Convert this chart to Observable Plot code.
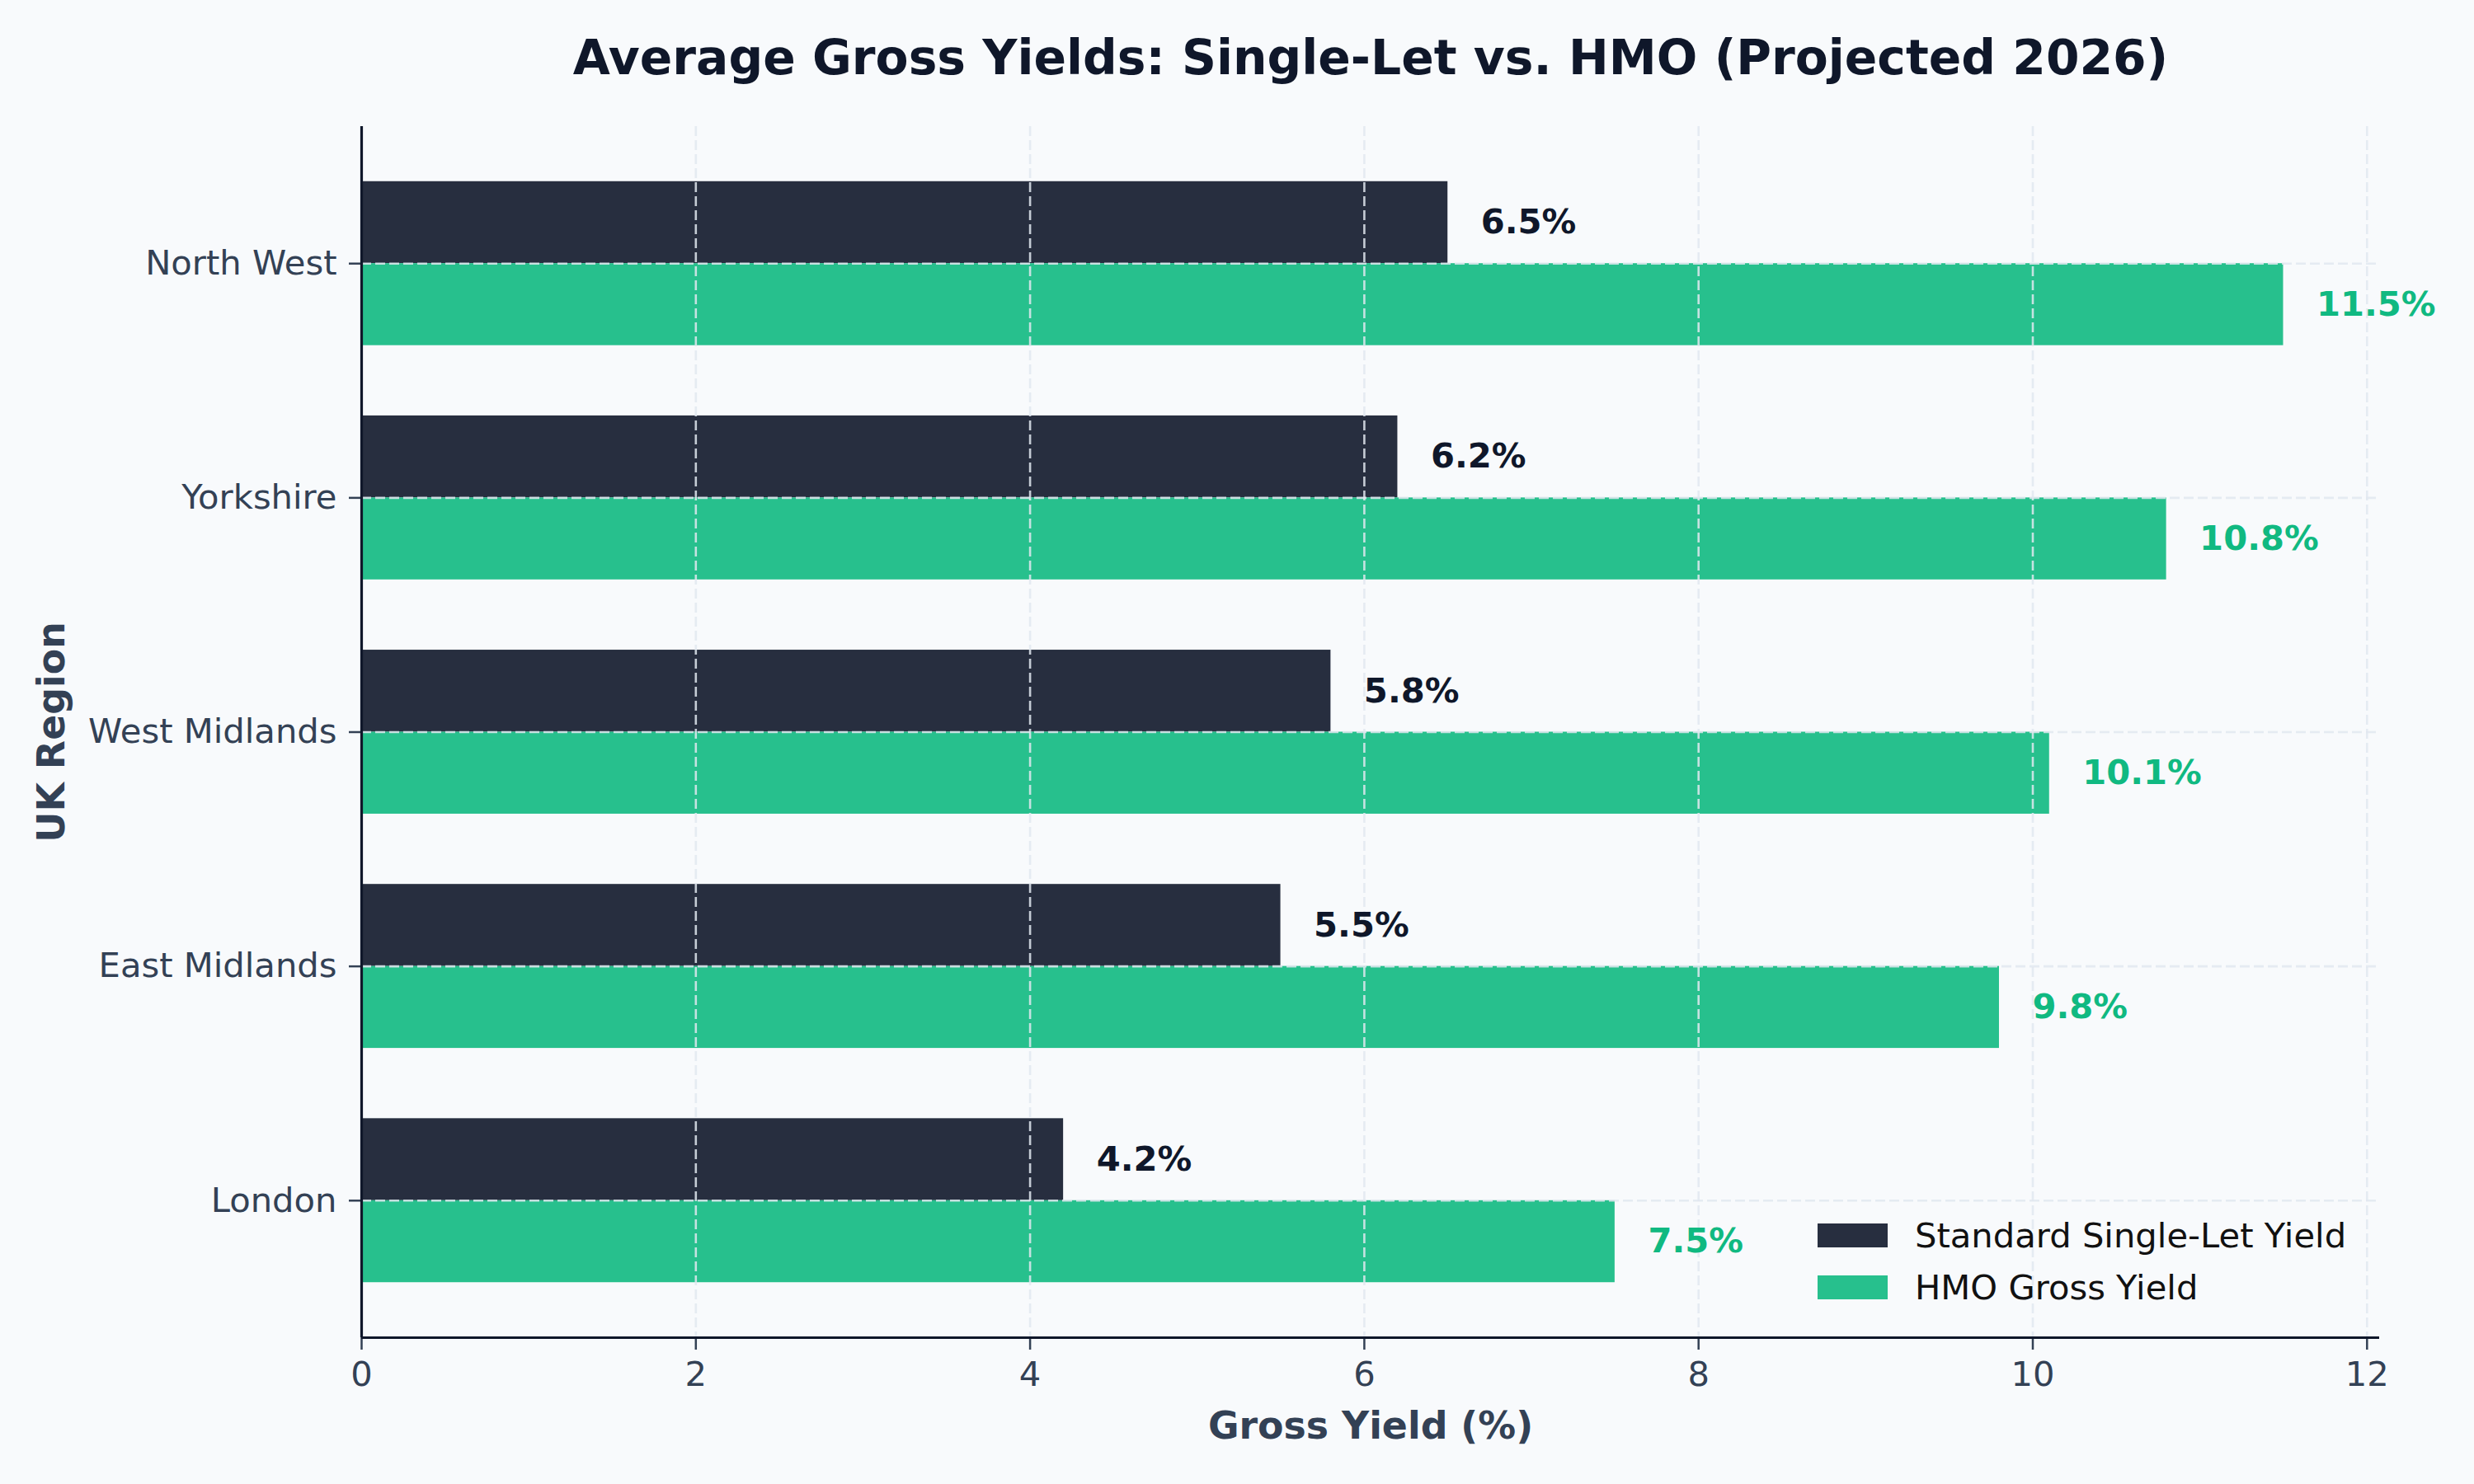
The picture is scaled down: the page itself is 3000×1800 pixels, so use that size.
<!DOCTYPE html>
<html>
<head>
<meta charset="utf-8">
<script src="https://cdn.jsdelivr.net/npm/d3@7"></script>
<script src="https://cdn.jsdelivr.net/npm/@observablehq/plot@0.6"></script>
<style>
  html, body { margin: 0; padding: 0; background: #F8FAFC; }
  #chart { position: relative; width: 3000px; height: 1800px; font-family: "DejaVu Sans", sans-serif; }
  #legend { position: absolute; left: 2204px; top: 1467px; font-size: 41.7px; color: #111111; }
  #legend .row { display: flex; align-items: center; height: 63px; }
  #legend .sw { width: 85px; height: 29px; margin-right: 33px; opacity: 0.9; }
</style>
</head>
<body>
<div id="chart"><div id="legend"></div></div>
<script>
// Regions, bottom to top
const regions = ["London", "East Midlands", "West Midlands", "Yorkshire", "North West"];
const singleLet = [4.2, 5.5, 5.8, 6.2, 6.5];
const hmoYield = [7.5, 9.8, 10.1, 10.8, 11.5];
const seriesNames = ["Standard Single-Let Yield", "HMO Gross Yield"];
const seriesColors = ["#0F172A", "#10B981"];
const xTicks = [0, 2, 4, 6, 8, 10, 12];

const barH = 0.35;
const rows = regions.flatMap((r, i) => [
  {region: r, i, series: seriesNames[0], value: singleLet[i], y1: i, y2: i + barH},
  {region: r, i, series: seriesNames[1], value: hmoYield[i], y1: i - barH, y2: i}
]);

// matplotlib-like 5% margins
const xMax = d3.max(rows, d => d.value) * 1.05;
const yPad = (regions.length - 1 + 2 * barH) * 0.05;
const yDomain = [-barH - yPad, regions.length - 1 + barH + yPad];

const font = "DejaVu Sans";
const slate = "#334155";
const gridStyle = {stroke: "#E2E8F0", strokeOpacity: 0.85, strokeWidth: 2.6, strokeDasharray: "12,5"};

const chart = Plot.plot({
  width: 3000,
  height: 1800,
  marginLeft: 438,
  marginRight: 115,
  marginTop: 153,
  marginBottom: 178,
  style: {background: "transparent", fontFamily: font, overflow: "visible"},
  x: {domain: [0, xMax]},
  y: {domain: yDomain},
  color: {domain: seriesNames, range: seriesColors},
  marks: [
    Plot.rect(rows, {x1: 0, x2: "value", y1: "y1", y2: "y2", fill: "series", fillOpacity: 0.9}),
    Plot.gridX(xTicks, gridStyle),
    Plot.gridY(d3.range(regions.length), gridStyle),
    Plot.text(rows, {
      x: "value", y: d => (d.y1 + d.y2) / 2, text: d => `${d.value.toFixed(1)}%`,
      fill: "series", textAnchor: "start", dx: 40, fontSize: 41.7, fontWeight: "bold"
    }),
    Plot.axisX({
      ticks: xTicks, tickFormat: d => String(d), tickSize: 15, tickPadding: 14,
      fontSize: 41.7, color: slate, strokeWidth: 2.5, label: null
    }),
    Plot.axisY({
      ticks: d3.range(regions.length), tickFormat: i => regions[i], tickSize: 15, tickPadding: 15,
      fontSize: 41.7, color: slate, strokeWidth: 2.5, label: null
    }),
    Plot.ruleX([0], {stroke: "#0F172A", strokeWidth: 3.2}),
    Plot.ruleY([yDomain[0]], {stroke: "#0F172A", strokeWidth: 3.2}),
    Plot.text(["Average Gross Yields: Single-Let vs. HMO (Projected 2026)"], {
      frameAnchor: "top", textAnchor: "middle", lineAnchor: "middle", dy: -82,
      fontSize: 58.3, fontWeight: "bold", fill: "#0F172A"
    }),
    Plot.text(["Gross Yield (%)"], {
      frameAnchor: "bottom", textAnchor: "middle", lineAnchor: "middle", dy: 108,
      fontSize: 45.8, fontWeight: "bold", fill: slate
    }),
    Plot.text(["UK Region"], {
      frameAnchor: "left", textAnchor: "middle", lineAnchor: "middle", dx: -375, rotate: -90,
      fontSize: 45.8, fontWeight: "bold", fill: slate
    })
  ]
});

document.getElementById("chart").prepend(chart);

// Legend
const legend = document.getElementById("legend");
seriesNames.forEach((name, k) => {
  const row = document.createElement("div");
  row.className = "row";
  const sw = document.createElement("div");
  sw.className = "sw";
  sw.style.background = seriesColors[k];
  const label = document.createElement("span");
  label.textContent = name;
  row.append(sw, label);
  legend.append(row);
});
</script>
</body>
</html>
